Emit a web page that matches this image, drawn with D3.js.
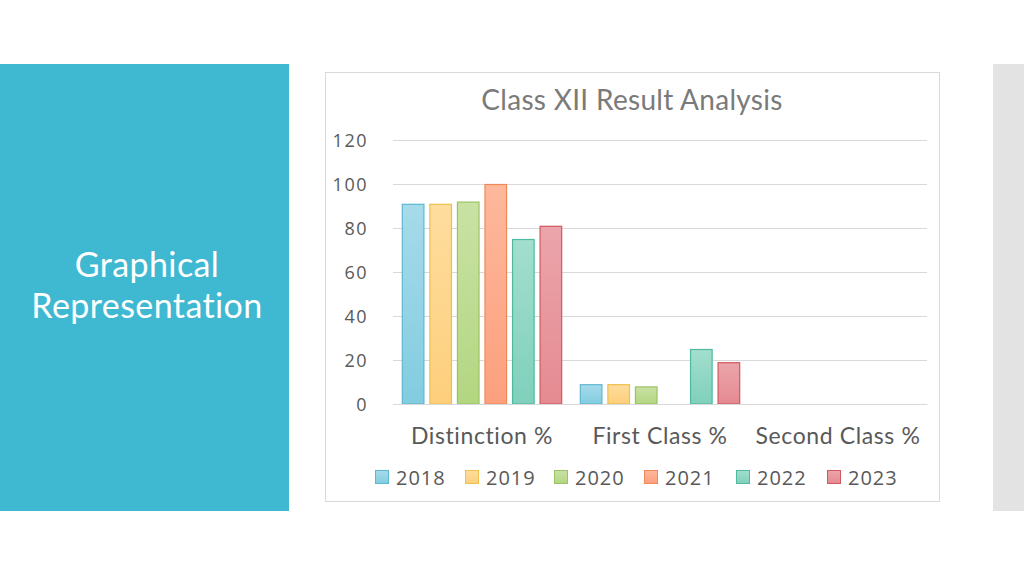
<!DOCTYPE html>
<html><head><meta charset="utf-8">
<script src="https://cdn.jsdelivr.net/npm/d3@7/dist/d3.min.js"></script>
<style>html,body{margin:0;padding:0;background:#fff;}svg{display:block;}</style>
</head><body>
<svg id="c" width="1024" height="576"></svg>
<script>
const categories = ["Distinction %", "First Class %", "Second Class %"];
const years = ["2018", "2019", "2020", "2021", "2022", "2023"];
const values2018 = [91, 9, 0];
const values2019 = [91, 9, 0];
const values2020 = [92, 8, 0];
const values2021 = [100, 0, 0];
const values2022 = [75, 25, 0];
const values2023 = [81, 19, 0];
const yTicks = [0, 20, 40, 60, 80, 100, 120];
const series = [values2018, values2019, values2020, values2021, values2022, values2023];
const fillTop = ["#a6dbea", "#fedd9e", "#c9e2a4", "#fdb89c", "#a3dece", "#eba5ab"];
const fillBot = ["#82cce0", "#fdcf7c", "#b3d681", "#fca07e", "#7fd0bc", "#e58a91"];
const strokes = ["#5fb7cf", "#eec04a", "#9cc363", "#ef8a58", "#4fb9a0", "#d0585f"];

const svg = d3.select("#c");
const font = "'Open Sans', Lato, sans-serif";
// side panels
svg.append("rect").attr("x",0).attr("y",64).attr("width",289).attr("height",447).attr("fill","#3fb8d1");
svg.append("rect").attr("x",993).attr("y",64).attr("width",31).attr("height",447).attr("fill","#e3e3e3");
svg.append("text").attr("x",147).attr("y",277).attr("fill","#fff").attr("font-family","Lato, sans-serif").attr("font-size",34).attr("letter-spacing",0.4).attr("text-anchor","middle").text("Graphical");
svg.append("text").attr("x",147).attr("y",318).attr("fill","#fff").attr("font-family","Lato, sans-serif").attr("font-size",34).attr("letter-spacing",0.4).attr("text-anchor","middle").text("Representation");

// chart frame
svg.append("rect").attr("x",325.5).attr("y",72.5).attr("width",614).attr("height",429).attr("fill","#fff").attr("stroke","#d9d9d9");
svg.append("text").attr("x",632).attr("y",110).attr("text-anchor","middle").attr("font-family","Lato, 'Open Sans', sans-serif")
  .attr("font-size",28).attr("fill","#7a7a7a").attr("letter-spacing",0.3).text("Class XII Result Analysis");

const x0 = d3.scaleBand().domain(categories).range([393, 927]).paddingInner(0).paddingOuter(0);
const x1 = d3.scaleBand().domain(years).range([0, x0.bandwidth()]).paddingInner(0.18).paddingOuter(0.32);
const y = d3.scaleLinear().domain([0,120]).range([404,140]);

const defs = svg.append("defs");
years.forEach((yr,i)=>{
  const g = defs.append("linearGradient").attr("id","g"+i).attr("x1",0).attr("y1",0).attr("x2",0).attr("y2",1);
  g.append("stop").attr("offset","0%").attr("stop-color",fillTop[i]);
  g.append("stop").attr("offset","100%").attr("stop-color",fillBot[i]);
});

// grid
const yAxis = d3.axisLeft(y).tickValues(yTicks).tickSize(-(927-393)).tickPadding(25);
const ga = svg.append("g").attr("transform","translate(393,0)").call(yAxis);
ga.select(".domain").remove();
ga.selectAll(".tick line").attr("stroke","#d9d9d9");
ga.selectAll(".tick text").attr("font-family",font).attr("font-size",18).attr("letter-spacing",1.5).attr("fill","#595959").attr("dy","0.35em");

// bars
categories.forEach((c,ci)=>{
  years.forEach((yr,si)=>{
    const v = series[si][ci];
    if (v <= 0) return;
    svg.append("rect")
      .attr("x", x0(c)+x1(yr)+0.5).attr("y", y(v)+0.5)
      .attr("width", x1.bandwidth()-1).attr("height", y(0)-y(v)-0.5)
      .attr("fill","url(#g"+si+")").attr("stroke",strokes[si]).attr("stroke-width",1.2);
  });
});

// x labels
const xa = svg.append("g").attr("transform","translate(0,404)").call(d3.axisBottom(x0).tickSize(0).tickPadding(24));
xa.select(".domain").attr("stroke","#d9d9d9");
xa.selectAll(".tick text").attr("font-family","Lato, 'Open Sans', sans-serif").attr("font-size",23).attr("fill","#595959").attr("letter-spacing",0.6);

// legend
const legX = [375, 465, 554, 644, 736, 827];
years.forEach((yr,i)=>{
  const g = svg.append("g").attr("transform",`translate(${legX[i]},470)`);
  g.append("rect").attr("x",0.5).attr("y",0.5).attr("width",13).attr("height",13).attr("fill","url(#g"+i+")").attr("stroke",strokes[i]);
  g.append("text").attr("x",21).attr("y",15).attr("font-family",font).attr("font-size",20).attr("letter-spacing",1).attr("fill","#595959").text(yr);
});
</script>
</body></html>
